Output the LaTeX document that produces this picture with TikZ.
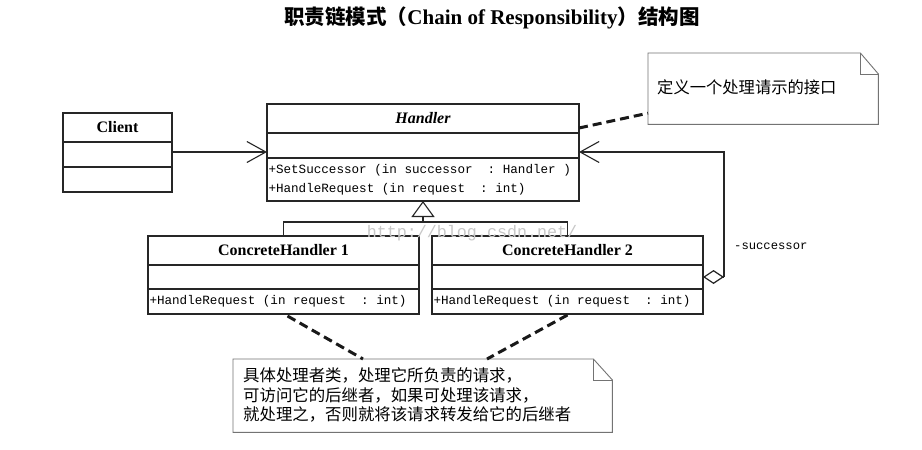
\documentclass[tikz,border=0pt]{standalone}
\usepackage{fontspec}
\setmainfont{Liberation Serif}
\setmonofont{Liberation Mono}
\newfontfamily\cjk{Noto Sans CJK SC}
\usetikzlibrary{arrows.meta,calc}
\newcommand\MS{\hspace*{0.6em}}
\begin{document}
\begin{tikzpicture}[x=1pt,y=-1pt,
  box/.style={draw=black!85, line width=1.3pt, rectangle, inner sep=0pt, outer sep=0pt, anchor=north west},
  cname/.style={box, font=\fontsize{16}{18}\selectfont\bfseries},
  meth/.style={box, align=left, inner xsep=1.5pt, font=\fontsize{12.6}{19.5}\selectfont\ttfamily},
  line/.style={draw=black!85, line width=1.1pt},
  assoc/.style={line, -{Straight Barb[length=19pt,width=21pt,line width=1.1pt]}},
  notedash/.style={draw=black!90, line width=3pt, dash pattern=on 9pt off 5pt},
  notefr/.style={draw=black!55, line width=0.9pt}
]
\useasboundingbox (0,0) rectangle (922,450);
\fill[white] (0,0) rectangle (922,450);

% title
\node (title) at (492,18) {\cjk\bfseries\fontsize{20.5}{22}\selectfont 职责链模式（{\rmfamily\bfseries\fontsize{21}{22}\selectfont Chain of Responsibility}）结构图};

% Client
\node[cname, minimum width=109, minimum height=29] (clientname) at (63,113) {Client};
\node[box, minimum width=109, minimum height=25] (clientattr) at (63,142) {};
\node[box, minimum width=109, minimum height=25] (clientmeth) at (63,167) {};

% Handler
\node[cname, minimum width=312, minimum height=29] (handlername) at (267,104) {\itshape Handler};
\node[box, minimum width=312, minimum height=25] (handlerattr) at (267,133) {};
\node[meth, text width=309pt, minimum height=43] (handlermeth) at (267,158) {+SetSuccessor\MS(in\MS successor\MS\MS:\MS Handler\MS)\\+HandleRequest\MS(in\MS request\MS\MS:\MS int)};

% ConcreteHandler 1
\node[cname, minimum width=271, minimum height=29] (ch1name) at (148,236) {ConcreteHandler 1};
\node[box, minimum width=271, minimum height=24] (ch1attr) at (148,265) {};
\node[meth, text width=268pt, minimum height=25] (ch1meth) at (148,289) {+HandleRequest\MS(in\MS request\MS\MS:\MS int)};

% ConcreteHandler 2
\node[cname, minimum width=271, minimum height=29] (ch2name) at (432,236) {ConcreteHandler 2};
\node[box, minimum width=271, minimum height=24] (ch2attr) at (432,265) {};
\node[meth, text width=268pt, minimum height=25] (ch2meth) at (432,289) {+HandleRequest\MS(in\MS request\MS\MS:\MS int)};

% watermark
\node[text=black!22, font=\fontsize{16.7}{18}\selectfont\ttfamily] (wm) at (472,233) {http://blog.csdn.net/};

% Client -> Handler association
\draw[assoc] ([yshift=2.5pt]clientattr.east) coordinate (ca) -- (ca -| handlerattr.west);

% generalization
\coordinate (j) at (423,222);
\draw[line] (ch1name.north) |- (j) -| (ch2name.north);
\draw[line, -{Triangle[open, length=16pt, width=23pt, line width=1.1pt, fill=white]}] (j) -- (handlermeth.south);

% aggregation successor
\coordinate (k) at (724,277);
\draw[line, {Diamond[open, length=21pt, width=14pt, line width=1.2pt, fill=white]}-] (ch2attr.east) -- (k);
\draw[assoc] (k) |- ([yshift=-6.5pt]handlerattr.east);
\node[anchor=west, inner sep=0pt, font=\fontsize{12.2}{14}\selectfont\ttfamily] (succ) at (734,246) {-successor};

% note 1
\node[anchor=north west, inner sep=0pt, minimum width=230, minimum height=71] (note1) at (648,53) {};
\node[anchor=west, inner sep=0pt, font=\cjk\fontsize{16.3}{19}\selectfont] (note1txt) at (657,87) {定义一个处理请示的接口};
\draw[notefr] (note1.north west) -- ([xshift=-18pt]note1.north east) coordinate (f1) -- ([yshift=-21pt]note1.north east) coordinate (f2) -- (note1.south east) -- (note1.south west) -- cycle;
\draw[notefr] (f1) |- (f2);

% note 2
\node[anchor=north west, inner sep=0pt, minimum width=379, minimum height=73] (note2) at (233,359) {};
\node[anchor=west, inner sep=0pt, align=left, font=\cjk\fontsize{16.4}{19.5}\selectfont] (note2txt) at (243,395) {具体处理者类，处理它所负责的请求，\\可访问它的后继者，如果可处理该请求，\\就处理之，否则就将该请求转发给它的后继者};
\draw[notefr] (note2.north west) -- ([xshift=-19pt]note2.north east) coordinate (g1) -- ([yshift=-21pt]note2.north east) coordinate (g2) -- (note2.south east) -- (note2.south west) -- cycle;
\draw[notefr] (g1) |- (g2);

% dashed note links
\draw[notedash] ([yshift=-9.5pt]handlername.east) -- ([yshift=-24.5pt]note1.west);
\draw[notedash] ([xshift=4pt, yshift=-2pt]ch1meth.south) -- ([xshift=130pt]note2.north west);
\draw[notedash] ([yshift=-1pt]ch2meth.south) -- ([xshift=254pt]note2.north west);
\end{tikzpicture}
\end{document}
